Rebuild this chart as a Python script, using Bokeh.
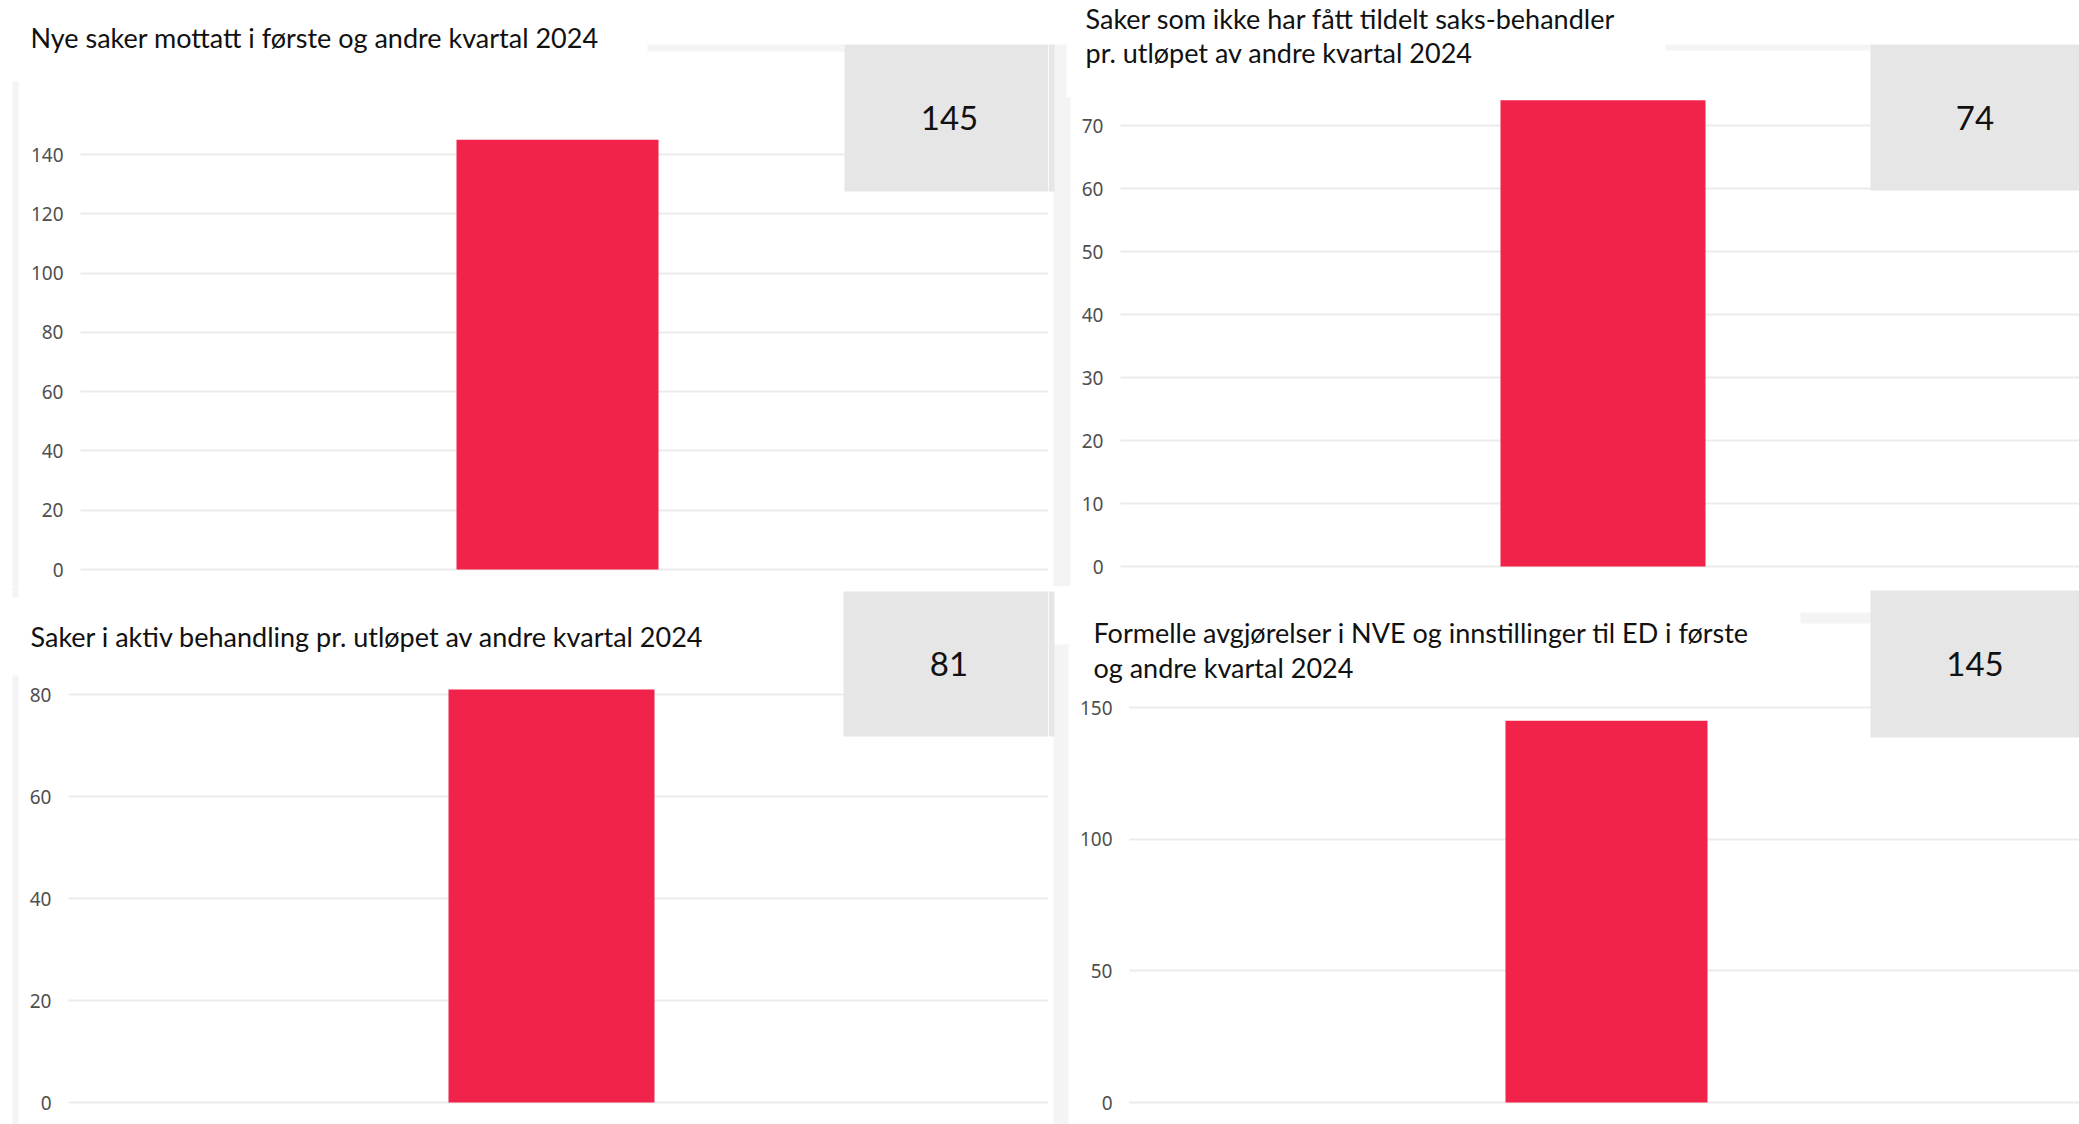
from bokeh.plotting import figure
from bokeh.models import Range1d, FixedTicker, BoxAnnotation, Label, ColumnDataSource
from bokeh.layouts import column, row
from bokeh.embed import file_html
from bokeh.resources import INLINE

# ---------------- data ----------------
categories = ["1. og 2. kvartal 2024"]

titles_new = ["Nye saker mottatt i første og andre kvartal 2024"]
titles_unassigned = ["Saker som ikke har fått tildelt saks-behandler",
                     "pr. utløpet av andre kvartal 2024"]
titles_active = ["Saker i aktiv behandling pr. utløpet av andre kvartal 2024"]
titles_decisions = ["Formelle avgjørelser i NVE og innstillinger til ED i første",
                    "og andre kvartal 2024"]

values_new = [145]
values_unassigned = [74]
values_active = [81]
values_decisions = [145]

ticks_new = [0, 20, 40, 60, 80, 100, 120, 140]
ticks_unassigned = [0, 10, 20, 30, 40, 50, 60, 70]
ticks_active = [0, 20, 40, 60, 80]
ticks_decisions = [0, 50, 100, 150]

# ---------------- styling / layout (page pixel coordinates) ----------------
BAR_COLOR = "#F1234A"
CARD_COLOR = "#E6E6E6"
STRIP_COLOR = "#F4F4F4"
GRID_COLOR = "#EBEBEB"
TICK_COLOR = "#4F4F4F"
TITLE_FONT = "Lato"
TITLE_SIZE = "27px"
CARD_FONT = "Lato"
CARD_SIZE = "33px"
TICK_FONT = "Noto Sans"
TICK_SIZE = "19px"
BAR_W = 0.8

panels = [
    dict(titles=titles_new, values=values_new, ticks=ticks_new,
         origin=(0, 0), size=(1048, 586), grid_left=80, label_right=63,
         zero_y=569, top_tick_y=154,
         bar=(456, 658), card=(844, 44, 1054, 191), title_x=30, baselines=[37]),
    dict(titles=titles_unassigned, values=values_unassigned, ticks=ticks_unassigned,
         origin=(1048, 0), size=(1031, 586), grid_left=1120, label_right=1103,
         zero_y=566, top_tick_y=125,
         bar=(1500, 1705), card=(1870, 44, 2079, 190), title_x=1085, baselines=[18, 52]),
    dict(titles=titles_active, values=values_active, ticks=ticks_active,
         origin=(0, 586), size=(1048, 538), grid_left=68, label_right=51,
         zero_y=1102, top_tick_y=694,
         bar=(448, 654), card=(843, 591, 1054, 736), title_x=30, baselines=[636]),
    dict(titles=titles_decisions, values=values_decisions, ticks=ticks_decisions,
         origin=(1048, 586), size=(1031, 538), grid_left=1129, label_right=1112,
         zero_y=1102, top_tick_y=707,
         bar=(1505, 1707), card=(1870, 590, 2079, 737), title_x=1093, baselines=[632, 667]),
]

# faint background strips from the dashboard (page coords: x0, y0, x1, y1, colour)
decor = [
    (12, 81, 18, 597, STRIP_COLOR),
    (12, 675, 18, 1124, STRIP_COLOR),
    (647, 44, 844, 51, STRIP_COLOR),
    (1665, 44, 1870, 50, STRIP_COLOR),
    (1800, 612, 1870, 623, STRIP_COLOR),
    (1053, 44, 1066, 97, STRIP_COLOR),
    (1053, 97, 1070, 586, STRIP_COLOR),
    (1053, 644, 1068, 1124, STRIP_COLOR),
    (1048, 44, 1054, 191, CARD_COLOR),
    (1048, 591, 1054, 736, CARD_COLOR),
]


def make_panel(cfg):
    ox, oy = cfg["origin"]
    W, H = cfg["size"]
    fl = ox  # plot frame spans the whole panel
    ticks = cfg["ticks"]
    ppu_y = (cfg["zero_y"] - cfg["top_tick_y"]) / ticks[-1]
    y_start = -(oy + H - cfg["zero_y"]) / ppu_y
    y_end = (cfg["zero_y"] - oy) / ppu_y
    b0, b1 = cfg["bar"]
    ppu_x = (b1 - b0) / BAR_W
    bc = (b0 + b1) / 2
    x_start = -(bc - fl) / ppu_x
    x_end = x_start + W / ppu_x

    def sx(px):
        return px - fl

    def sy(py):
        return (oy + H) - py

    p = figure(width=W, height=H, x_range=Range1d(x_start, x_end),
               y_range=Range1d(y_start, y_end), output_backend="svg",
               toolbar_location=None, x_axis_location=None, y_axis_location="left",
               min_border_left=0, min_border_right=0, min_border_top=0,
               min_border_bottom=0, title=None)
    p.outline_line_color = None
    p.background_fill_color = "white"
    p.border_fill_color = "white"

    src = ColumnDataSource(dict(x=list(range(len(categories))), top=cfg["values"],
                                cat=categories))
    p.vbar(x="x", top="top", bottom=0, width=BAR_W, source=src,
           fill_color=BAR_COLOR, line_color=None)

    ax = p.yaxis[0]
    ax.ticker = FixedTicker(ticks=ticks)
    ax.axis_line_color = None
    ax.major_tick_line_color = None
    ax.minor_tick_line_color = None
    ax.major_tick_out = 0
    ax.major_tick_in = 0
    ax.major_label_standoff = -(cfg["label_right"] - fl)
    ax.major_label_text_font = TICK_FONT
    ax.major_label_text_font_size = TICK_SIZE
    ax.major_label_text_color = TICK_COLOR

    p.xgrid.visible = False
    p.ygrid.grid_line_color = GRID_COLOR
    p.ygrid.grid_line_width = 2

    # white margin left of where the grid lines start
    p.add_layout(BoxAnnotation(left=sx(ox), right=sx(cfg["grid_left"]), top=sy(oy),
                               bottom=sy(oy + H),
                               left_units="screen", right_units="screen",
                               top_units="screen", bottom_units="screen",
                               fill_color="white", fill_alpha=1.0, line_color=None,
                               level="underlay"))

    # decorative strips that fall on this canvas
    for (x0, y0, x1, y1, col) in decor:
        if x1 <= ox or x0 >= ox + W or y1 <= oy or y0 >= oy + H:
            continue
        x0c, x1c = max(x0, ox), min(x1, ox + W)
        y0c, y1c = max(y0, oy), min(y1, oy + H)
        p.add_layout(BoxAnnotation(left=sx(x0c), right=sx(x1c), top=sy(y0c), bottom=sy(y1c),
                                   left_units="screen", right_units="screen",
                                   top_units="screen", bottom_units="screen",
                                   fill_color=col, fill_alpha=1.0, line_color=None,
                                   level="underlay"))

    # KPI card
    c0, c1, c2, c3 = cfg["card"]
    c2c = min(c2, ox + W)
    p.add_layout(BoxAnnotation(left=sx(c0), right=sx(c2c), top=sy(c1), bottom=sy(c3),
                               left_units="screen", right_units="screen",
                               top_units="screen", bottom_units="screen",
                               fill_color=CARD_COLOR, fill_alpha=1.0, line_color=None))
    card_text = str(sum(cfg["values"]))
    p.add_layout(Label(x=sx((c0 + c2) / 2), y=sy((c1 + c3) / 2),
                       x_units="screen", y_units="screen", text=card_text,
                       text_align="center", text_baseline="middle",
                       text_font=CARD_FONT, text_font_size=CARD_SIZE, text_color="#111111"))

    # title lines
    for line, base in zip(cfg["titles"], cfg["baselines"]):
        p.add_layout(Label(x=sx(cfg["title_x"]), y=sy(base), x_units="screen",
                           y_units="screen", text=line, text_align="left",
                           text_baseline="alphabetic", text_font=TITLE_FONT,
                           text_font_size=TITLE_SIZE, text_color="#111111"))
    return p


figs = [make_panel(c) for c in panels]
layout = column(row(figs[0], figs[1]), row(figs[2], figs[3]))

open("out.html", "w").write(file_html(layout, INLINE))
